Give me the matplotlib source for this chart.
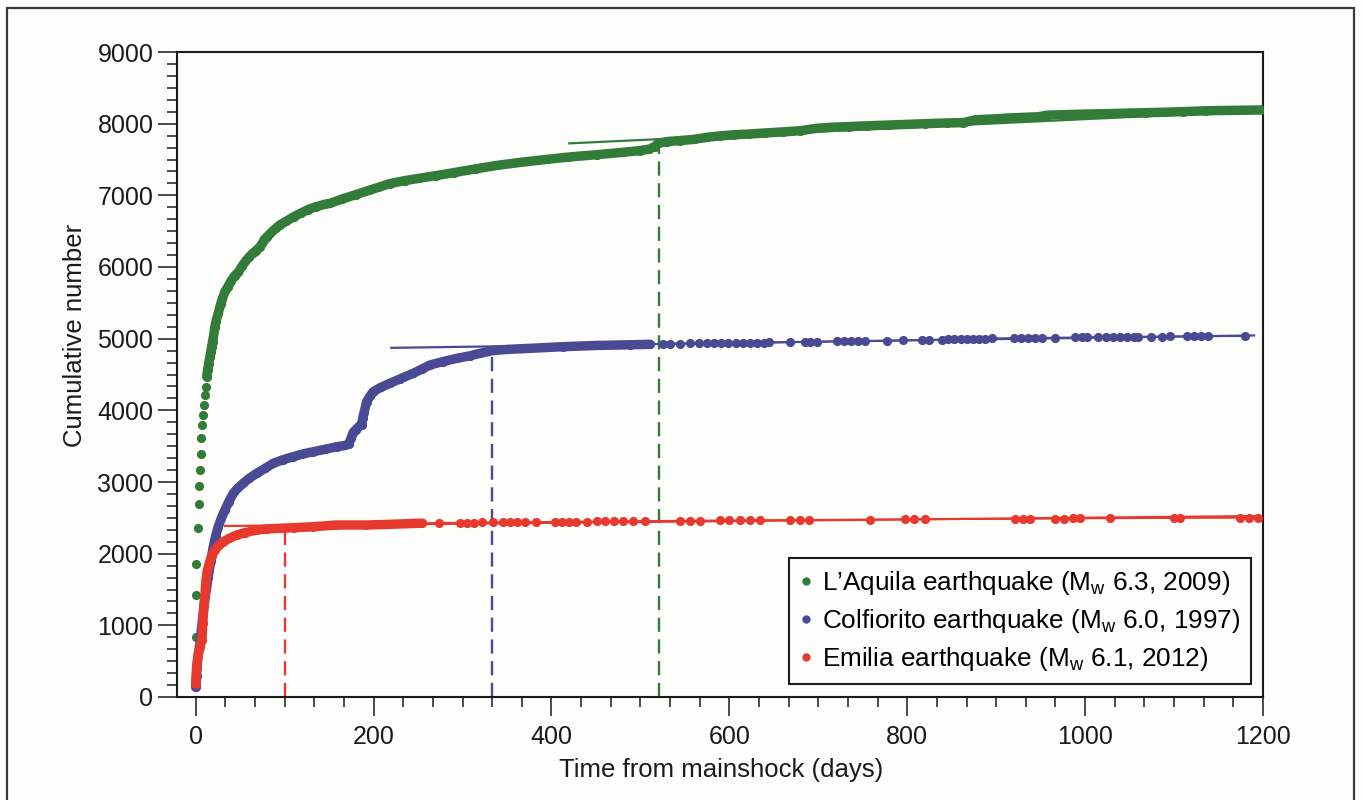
import matplotlib
matplotlib.use("Agg")
import matplotlib.pyplot as plt
from matplotlib.lines import Line2D
from matplotlib.patches import Rectangle
from matplotlib.ticker import MultipleLocator
import numpy as np

plt.rcParams['font.family'] = ['Liberation Sans', 'DejaVu Sans']
plt.rcParams['mathtext.fontset'] = 'custom'
plt.rcParams['mathtext.rm'] = 'Liberation Sans'
plt.rcParams['mathtext.it'] = 'Liberation Sans'

# ---------------- data ----------------
labels = ["L\u2019Aquila earthquake (M$_{\\rm w}$ 6.3, 2009)",
          "Colfiorito earthquake (M$_{\\rm w}$ 6.0, 1997)",
          "Emilia earthquake (M$_{\\rm w}$ 6.1, 2012)"]

green_days = [0.2, 0.5, 0.8, 2.2, 3.5, 4.0, 4.8, 6.0, 6.3, 7.6, 8.4, 9.2, 10.5, 11.4,
              12.4, 13.5, 14.5, 16, 17, 18, 19, 20, 21.5, 23, 25.5, 28, 30, 33, 36, 40,
              44, 48, 52, 56, 60, 64, 68, 72, 75, 77, 80, 84, 90, 95, 102, 110, 118, 126,
              135, 145, 151, 165, 180, 195, 205, 218, 235, 250, 270, 290, 315, 339, 365,
              395, 420, 451, 480, 500, 510, 516, 520, 530, 545, 560, 575, 590, 605, 622,
              640, 660, 680, 698, 715, 735, 755, 779, 800, 820, 845, 863, 877, 895, 915,
              935, 948, 957, 975, 1002, 1025, 1050, 1069, 1090, 1110, 1136, 1160, 1180, 1203]
green_counts = [840, 1420, 1860, 2360, 2700, 2950, 3170, 3390, 3620, 3800, 3930, 4070, 4210, 4330,
                4470, 4560, 4650, 4750, 4820, 4890, 4960, 5030, 5160, 5250, 5360, 5480, 5560, 5660, 5720, 5810,
                5880, 5930, 6010, 6080, 6140, 6190, 6230, 6280, 6330, 6380, 6420, 6470, 6540, 6590, 6640, 6700, 6750, 6800,
                6840, 6875, 6888, 6950, 7010, 7070, 7110, 7163, 7205, 7235, 7275, 7316, 7370, 7418, 7460,
                7502, 7535, 7567, 7600, 7625, 7645, 7680, 7725, 7750, 7765, 7780, 7810, 7830, 7845, 7855,
                7870, 7885, 7902, 7935, 7950, 7960, 7970, 7981, 7990, 8000, 8010, 8014, 8055, 8065, 8080,
                8090, 8097, 8118, 8125, 8134, 8140, 8148, 8153, 8160, 8168, 8180, 8185, 8188, 8192]

blue_days = [0, 1, 1.5, 3, 4.8, 6.5, 8.5, 11, 14.2, 17, 19.8, 22.5, 25.4, 29, 32.9, 37, 42.3, 47,
             53.5, 60, 68.6, 78, 87.2, 98, 109.7, 120, 132.2, 145, 158.5, 168, 172, 175, 177, 180,
             184, 186.6, 188, 189.5, 192.2, 196, 199.6, 208, 218.4, 230, 244.6, 255, 263.3, 278,
             293.4, 308, 319.5, 334.5, 350, 375.7, 413, 450, 488, 511,
             525, 533, 545, 556, 566, 575, 583, 591, 599, 607, 615, 623, 631, 639, 645,
             668, 685, 691, 698, 721, 729, 737, 745, 752, 777, 795, 817, 825,
             839, 846, 853, 860, 867, 874, 881, 888, 895, 920, 928, 936, 944, 952, 966,
             989, 996, 1002, 1015, 1023, 1031, 1039, 1047, 1055, 1060, 1074, 1087, 1096,
             1115, 1122, 1130, 1138, 1180]
blue_counts = [135, 300, 420, 600, 750, 950, 1170, 1420, 1680, 1900, 2097, 2250, 2376, 2500, 2609, 2720, 2842, 2910,
               2982, 3050, 3121, 3190, 3261, 3310, 3353, 3390, 3423, 3455, 3492, 3510, 3530, 3620, 3690, 3730,
               3780, 3800, 3900, 3980, 4120, 4200, 4260, 4320, 4377, 4440, 4516, 4580, 4632, 4680,
               4725, 4760, 4795, 4835, 4850, 4865, 4888, 4905, 4915, 4921,
               4928, 4930, 4932, 4934, 4936, 4937, 4938, 4940, 4941, 4942, 4943, 4944, 4945, 4946, 4947,
               4950, 4955, 4956, 4958, 4962, 4963, 4964, 4965, 4966, 4972, 4978, 4982, 4984,
               4988, 4990, 4992, 4994, 4996, 4998, 5000, 5002, 5005, 5008, 5009, 5010, 5011, 5012, 5014,
               5018, 5019, 5020, 5022, 5023, 5024, 5025, 5026, 5027, 5027, 5028, 5030, 5031,
               5032, 5033, 5033, 5034, 5035]

red_days = [0, 0.5, 1, 2, 3, 5, 6.7, 7.5, 7.9, 9.3, 10.5, 11.6, 13, 15.3, 18, 21.7, 26, 31, 38, 46,
            56, 68.6, 80, 94.8, 110, 132, 158, 192, 220, 248, 255,
            274, 297, 305, 313, 322, 334, 345, 353, 361, 370, 383, 404, 412, 420, 428, 440, 451,
            460, 470, 480, 492, 505, 545, 556, 567, 590, 600, 612, 623, 634, 668, 680, 690,
            758, 797, 808, 820, 921, 930, 938, 966, 976, 986, 994, 1028, 1100, 1107,
            1174, 1184, 1194]
red_counts = [180, 300, 423, 520, 609, 700, 795, 900, 1037, 1284, 1450, 1632, 1760, 1865, 1970, 2051, 2115, 2167, 2215, 2260,
              2295, 2330, 2345, 2354, 2362, 2376, 2400, 2400, 2410, 2423, 2425,
              2430, 2432, 2433, 2434, 2435, 2436, 2438, 2439, 2440, 2441, 2442, 2444, 2445, 2446, 2447, 2448, 2449,
              2452, 2453, 2454, 2455, 2456, 2460, 2461, 2462, 2464, 2465, 2466, 2467, 2468, 2470, 2471, 2472,
              2476, 2478, 2479, 2480, 2485, 2486, 2487, 2489, 2490, 2491, 2492, 2494, 2497, 2498,
              2500, 2501, 2502]

# linear fits (start/end) and characteristic times (dashed)
green_fit_days, green_fit_counts = [420, 1200], [7725, 8180]
blue_fit_days, blue_fit_counts = [220, 1190], [4872, 5045]
red_fit_days, red_fit_counts = [33, 1195], [2386, 2525]
green_tc, green_tc_count = 521, 7700
blue_tc, blue_tc_count = 333, 4830
red_tc, red_tc_count = 100, 2340

GREEN = '#327B38'
BLUE = '#4A4A94'
RED = '#E8392E'

# ---------------- figure ----------------
W, H = 1363, 800
fig = plt.figure(figsize=(W / 100, H / 100), dpi=100)
fig.patch.set_facecolor('#FDFDFC')
ax = fig.add_axes([177 / W, 1 - 697 / H, (1263 - 177) / W, (697 - 52) / H])
ax.set_facecolor('#FDFDFC')

# frame around the whole figure
fig.patches.append(Rectangle((7 / W, -0.05), (1354 - 7) / W, 1.05 - 8 / H,
                             transform=fig.transFigure, fill=False,
                             edgecolor='#3a3a3a', lw=1.6, clip_on=False))

MS = 6.6   # marker size (pt)
BAND = 6.8  # band width for dense parts (pt)

def draw_series(days, counts, color, band_from, band_to, thin=True):
    d = np.asarray(days, float)
    c = np.asarray(counts, float)
    if thin:
        ax.plot(d, c, '-', color=color, lw=1.3, zorder=3)
    m = (d >= band_from) & (d <= band_to)
    ax.plot(d[m], c[m], '-', color=color, lw=BAND, solid_capstyle='round',
            solid_joinstyle='round', zorder=3)
    ax.plot(d, c, 'o', color=color, ms=MS, mew=0, zorder=3)

for fd, fc, tc, tcc, col in [(green_fit_days, green_fit_counts, green_tc, green_tc_count, GREEN),
                             (blue_fit_days, blue_fit_counts, blue_tc, blue_tc_count, BLUE),
                             (red_fit_days, red_fit_counts, red_tc, red_tc_count, RED)]:
    ax.plot(fd, fc, '-', color=col, lw=1.6, zorder=2)
    ax.plot([tc, tc], [0, tcc], color=col, lw=1.7, dashes=(6, 3.2), zorder=2)

draw_series(green_days, green_counts, GREEN, 12, 1300, thin=False)
draw_series(blue_days, blue_counts, BLUE, -1, 511)
draw_series(red_days, red_counts, RED, -1, 255)

ax.set_xlim(-21, 1200)
ax.set_ylim(0, 9000)
ax.xaxis.set_major_locator(MultipleLocator(200))
ax.xaxis.set_minor_locator(MultipleLocator(200 / 6))
ax.yaxis.set_major_locator(MultipleLocator(1000))
ax.yaxis.set_minor_locator(MultipleLocator(1000 / 6))
ax.tick_params(axis='both', which='major', direction='out', length=13.5, width=1.1,
               labelsize=18, colors='#1a1a1a')
ax.tick_params(axis='both', which='minor', direction='out', length=7, width=1.1, colors='#1a1a1a')
ax.tick_params(axis='x', which='major', pad=6.5)
ax.tick_params(axis='y', which='major', pad=3.5)
for s in ax.spines.values():
    s.set_linewidth(1.5)
    s.set_color('#1a1a1a')

ax.set_xlabel('Time from mainshock (days)', fontsize=18.5, color='#1a1a1a')
ax.set_ylabel('Cumulative number', fontsize=18.5, color='#1a1a1a')
ax.xaxis.set_label_coords(0.501, -0.113)
ax.xaxis.label.set_verticalalignment('center')
ax.yaxis.set_label_coords(-0.094, 0.561)
ax.yaxis.label.set_verticalalignment('center')

handles = [Line2D([], [], marker='o', ls='none', color=c, ms=6, mew=0) for c in (GREEN, BLUE, RED)]
leg = ax.legend(handles, labels, loc='lower right',
                bbox_to_anchor=(1251 / W, 1 - 684 / H), bbox_transform=fig.transFigure,
                borderaxespad=0, fontsize=18.8, frameon=True, fancybox=False,
                handlelength=0.45, handletextpad=0.4, labelspacing=0.38,
                borderpad=0.42, edgecolor='#1a1a1a', facecolor='#FDFDFC', framealpha=1)
leg.get_frame().set_linewidth(1.5)

fig.savefig('out.png', dpi=100, facecolor=fig.get_facecolor())
